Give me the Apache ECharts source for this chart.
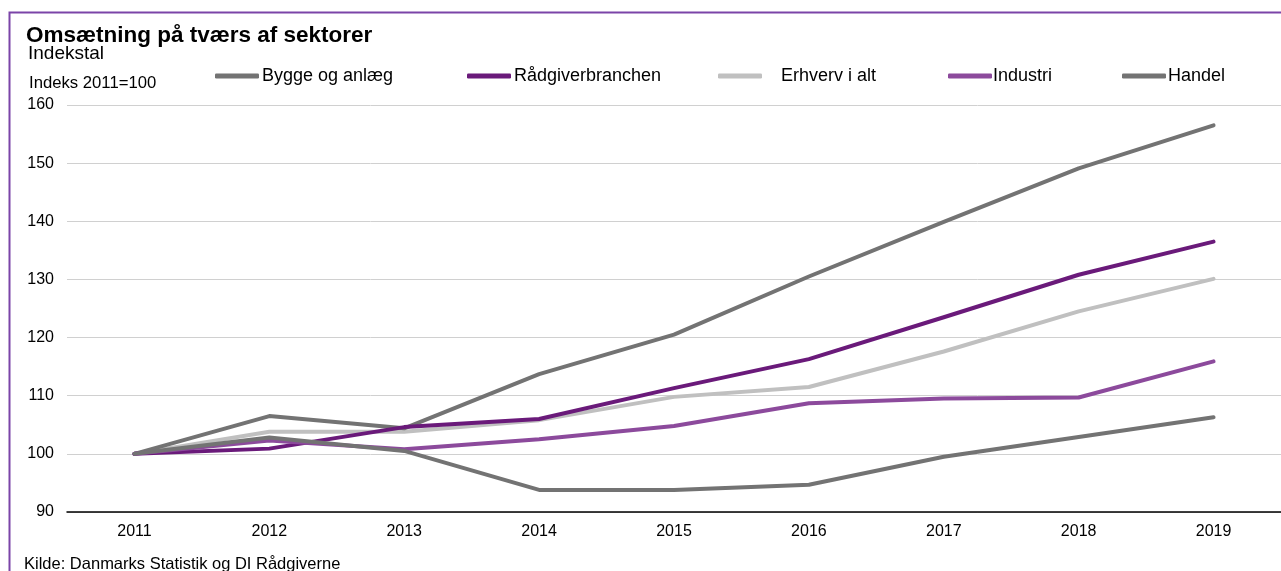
<!DOCTYPE html>
<html>
<head>
<meta charset="utf-8">
<script src="https://cdn.jsdelivr.net/npm/echarts@6/dist/echarts.min.js"></script>
<style>
  html, body { margin: 0; padding: 0; background: #fff; }
  #chart { width: 1281px; height: 571px; }
</style>
</head>
<body>
<div id="chart"></div>
<script>
// data
var years = ['2011', '2012', '2013', '2014', '2015', '2016', '2017', '2018', '2019'];
var bygge = [100, 106.5, 104.4, 113.7, 120.5, 130.5, 139.9, 149.1, 156.5];
var raadgiver = [100, 100.9, 104.6, 106.0, 111.3, 116.3, 123.5, 130.8, 136.5];
var erhverv = [100, 103.8, 103.8, 105.8, 109.8, 111.5, 117.6, 124.5, 130.1];
var industri = [100, 102.3, 100.8, 102.5, 104.8, 108.7, 109.5, 109.7, 115.9];
var handel = [100, 102.8, 100.5, 93.8, 93.8, 94.7, 99.5, 102.9, 106.3];

var names = ['Bygge og anlæg', 'Rådgiverbranchen', 'Erhverv i alt', 'Industri', 'Handel'];
var values = [bygge, raadgiver, erhverv, industri, handel];
var colors = ['#737373', '#6a1a7a', '#c0c0c0', '#8c4a9c', '#737373'];
var legendX = [215, 467, 718, 948, 1122];
var legendPad = [-2, -2, 14, -4, -3];

var font = '"Liberation Sans", Arial, sans-serif';

var chart = echarts.init(document.getElementById('chart'));

var legends = names.map(function (n, i) {
    return {
        data: [n],
        left: legendX[i],
        top: 67,
        icon: 'roundRect',
        itemWidth: 44,
        itemHeight: 5,
        padding: 0,
        textStyle: { fontFamily: font, fontSize: 18, color: '#000', padding: [0, 0, 0, legendPad[i]] }
    };
});

chart.setOption({
    animation: false,
    textStyle: { fontFamily: font },
    title: [
        { text: 'Omsætning på tværs af sektorer', left: 21, top: 19,
          textStyle: { fontFamily: font, fontSize: 22.5, fontWeight: 'bold', color: '#000' } },
        { text: 'Indekstal', left: 23, top: 39,
          textStyle: { fontFamily: font, fontSize: 19, fontWeight: 'normal', color: '#000' } },
        { text: 'Indeks 2011=100', left: 24, top: 70,
          textStyle: { fontFamily: font, fontSize: 16.7, fontWeight: 'normal', color: '#000' } },
        { text: 'Kilde: Danmarks Statistik og DI Rådgiverne', left: 19, top: 551,
          textStyle: { fontFamily: font, fontSize: 16.5, fontWeight: 'normal', color: '#000' } }
    ],
    legend: legends,
    graphic: [{
        type: 'rect',
        shape: { x: 9.5, y: 12.5, width: 1300, height: 600 },
        style: { fill: 'none', stroke: '#7b44a8', lineWidth: 2 },
        silent: true
    }],
    grid: { left: 67, right: -8, top: 105, bottom: 59 },
    xAxis: {
        type: 'category',
        data: years,
        boundaryGap: true,
        axisTick: { show: false },
        axisLine: { lineStyle: { color: '#000', width: 1.5 } },
        axisLabel: { fontFamily: font, fontSize: 16, color: '#000', margin: 12 }
    },
    yAxis: {
        type: 'value',
        min: 90,
        max: 160,
        interval: 10,
        axisLine: { show: false },
        axisTick: { show: false },
        splitLine: { lineStyle: { color: '#d0d0d0', width: 1 } },
        axisLabel: { fontFamily: font, fontSize: 16, color: '#000', margin: 13 }
    },
    series: names.map(function (n, i) {
        return {
            name: n,
            type: 'line',
            data: values[i],
            showSymbol: false,
            symbol: 'none',
            z: i === 2 ? 1 : 2 + i,
            itemStyle: { color: colors[i] },
            lineStyle: { color: colors[i], width: 4, cap: 'round', join: 'round' }
        };
    })
});

window.addEventListener('resize', function () {
    chart.resize();
});
</script>
</body>
</html>
